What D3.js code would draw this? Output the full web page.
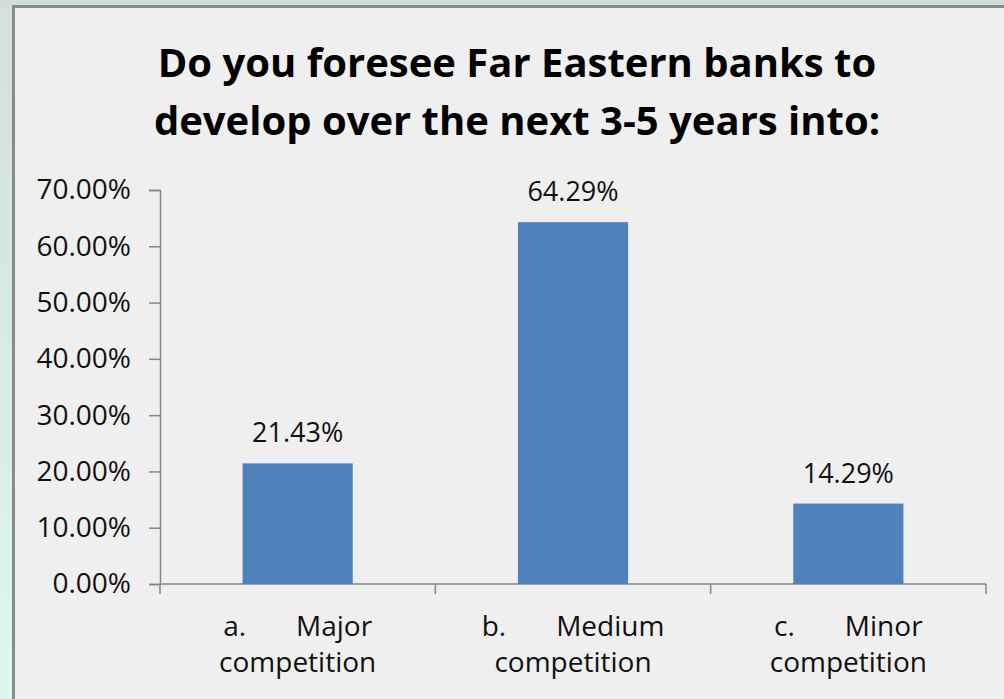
<!DOCTYPE html>
<html><head><meta charset="utf-8">
<script src="https://cdn.jsdelivr.net/npm/d3@7/dist/d3.min.js"></script>
<style>html,body{margin:0;padding:0;overflow:hidden;}</style>
</head><body>
<script>
const prefixes = ["a.", "b.", "c."];
const names = ["Major", "Medium", "Minor"];
const secondLine = ["competition", "competition", "competition"];
const values = [0.2143, 0.6429, 0.1429];
const valueLabels = ["21.43%", "64.29%", "14.29%"];
const yTicks = [0, 0.1, 0.2, 0.3, 0.4, 0.5, 0.6, 0.7];
const titleLines = ["Do you foresee Far Eastern banks to", "develop over the next 3-5 years into:"];

const W = 1004, H = 699;
const svg = d3.select("body").append("svg").attr("width", W).attr("height", H);
const defs = svg.append("defs");
const g = defs.append("linearGradient").attr("id", "bg").attr("x1", 0).attr("y1", 0).attr("x2", 0).attr("y2", 1);
g.append("stop").attr("offset", 0).attr("stop-color", "#d3dfdb");
g.append("stop").attr("offset", 1).attr("stop-color", "#dcf8ec");
svg.append("rect").attr("width", W).attr("height", H).attr("fill", "url(#bg)");
svg.append("rect").attr("x", 13.5).attr("y", 6.5).attr("width", W + 20).attr("height", H + 20)
  .attr("fill", "#efefef").attr("stroke", "#8a8a8a").attr("stroke-width", 3);

const font = "'Open Sans', sans-serif";
const x0 = 160, x1 = 986, yTop = 190, yBot = 584;
const x = d3.scaleBand().domain(names).range([x0, x1]).paddingInner(0.6).paddingOuter(0.3);
const y = d3.scaleLinear().domain([0, 0.7]).range([yBot, yTop]);

// title
svg.append("g").selectAll("text").data(titleLines).join("text")
  .attr("x", 517).attr("y", (d, i) => 77 + i * 58)
  .attr("text-anchor", "middle").attr("font-family", font).attr("font-weight", "bold")
  .attr("font-size", 40).attr("fill", "#000").text(d => d);

// y axis
const yAxis = svg.append("g").attr("transform", `translate(${x0},0)`)
  .call(d3.axisLeft(y).tickValues(yTicks).tickFormat(d3.format(".2%")).tickSize(11).tickPadding(18));
yAxis.select(".domain").attr("stroke", "#868686").attr("stroke-width", 1.5);
yAxis.selectAll(".tick line").attr("stroke", "#868686").attr("stroke-width", 1.5);
yAxis.selectAll(".tick text").attr("font-family", font).attr("font-size", 28).attr("fill", "#111");

// x axis line and ticks at category boundaries
const bounds = d3.range(names.length + 1).map(i => x0 + (x1 - x0) * i / names.length);
svg.append("line").attr("x1", x0).attr("x2", x1).attr("y1", yBot).attr("y2", yBot)
  .attr("stroke", "#868686").attr("stroke-width", 1.5);
svg.append("g").selectAll("line").data(bounds).join("line")
  .attr("x1", d => d).attr("x2", d => d).attr("y1", yBot).attr("y2", yBot + 10)
  .attr("stroke", "#868686").attr("stroke-width", 1.5);

// bars
svg.append("g").selectAll("rect").data(values).join("rect")
  .attr("x", (d, i) => x(names[i])).attr("width", x.bandwidth())
  .attr("y", d => y(d)).attr("height", d => yBot - y(d)).attr("fill", "#4f81bd");

// value labels
svg.append("g").selectAll("text").data(values).join("text")
  .attr("x", (d, i) => x(names[i]) + x.bandwidth() / 2).attr("y", d => y(d) - 21)
  .attr("text-anchor", "middle").attr("font-family", font).attr("font-size", 27).attr("fill", "#111")
  .text((d, i) => valueLabels[i]);

// category labels
names.forEach((n, i) => {
  const cx = x(n) + x.bandwidth() / 2;
  const gl = svg.append("g").attr("font-family", font).attr("font-size", 28).attr("fill", "#111");
  const p = gl.append("text").attr("y", 636).text(prefixes[i]);
  const w = gl.append("text").attr("y", 636).text(n);
  const gap = 50;
  const total = p.node().getComputedTextLength() + gap + w.node().getComputedTextLength();
  const left = cx - total / 2;
  p.attr("x", left);
  w.attr("x", left + p.node().getComputedTextLength() + gap);
  gl.append("text").attr("y", 672).attr("x", cx).attr("text-anchor", "middle").text(secondLine[i]);
});
</script>
</body></html>
